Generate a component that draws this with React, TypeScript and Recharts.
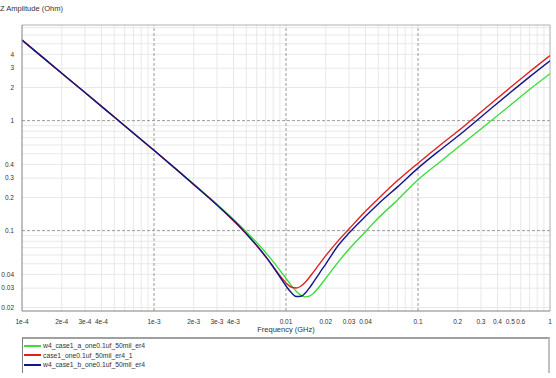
import React from 'react';
import { LineChart, Line, XAxis, YAxis, ReferenceLine, Label } from 'recharts';

const freqs = [1e-4, 2e-4, 3e-4, 5e-4, 7e-4, 1e-3, 1.5e-3, 2e-3, 3e-3, 4e-3, 5e-3, 6e-3, 7e-3, 8e-3, 9e-3, 0.01, 0.011, 0.012, 0.013, 0.014, 0.015, 0.016, 0.018, 0.02, 0.025, 0.03, 0.04, 0.05, 0.07, 0.1, 0.15, 0.2, 0.3, 0.5, 0.7, 1];
const zGreen = [5.40, 2.70, 1.80, 1.079, 0.770, 0.537, 0.356, 0.265, 0.174, 0.127, 0.0978, 0.0779, 0.0633, 0.0523, 0.0436, 0.0368, 0.0316, 0.0280, 0.0258, 0.0250, 0.0254, 0.0267, 0.0312, 0.0368, 0.0523, 0.0678, 0.0978, 0.13, 0.19, 0.29, 0.43, 0.57, 0.84, 1.38, 1.92, 2.67];
const zRed = [5.40, 2.70, 1.80, 1.078, 0.769, 0.536, 0.354, 0.262, 0.171, 0.123, 0.0934, 0.0730, 0.0581, 0.0471, 0.0390, 0.0335, 0.0306, 0.0301, 0.0314, 0.0340, 0.0375, 0.0415, 0.0502, 0.0592, 0.0816, 0.1034, 0.15, 0.195, 0.285, 0.41, 0.61, 0.80, 1.2, 2.0, 2.78, 3.9];
const zBlue = [5.40, 2.70, 1.80, 1.078, 0.769, 0.537, 0.355, 0.263, 0.171, 0.124, 0.0939, 0.0734, 0.0583, 0.0467, 0.0379, 0.0314, 0.0272, 0.0252, 0.0253, 0.0271, 0.0300, 0.0335, 0.0414, 0.0497, 0.074, 0.095, 0.135, 0.175, 0.25, 0.37, 0.55, 0.72, 1.08, 1.8, 2.5, 3.5];

const seriesNames = ['w4_case1_a_one0.1uf_50mil_er4', 'case1_one0.1uf_50mil_er4_1', 'w4_case1_b_one0.1uf_50mil_er4'];
const seriesColors = ['#3ddc3d', '#e02020', '#14148c'];

const xTicks = [1e-4, 2e-4, 3e-4, 4e-4, 1e-3, 2e-3, 3e-3, 4e-3, 0.01, 0.02, 0.03, 0.04, 0.1, 0.2, 0.3, 0.4, 0.5, 0.6, 1];
const xTickLabels = ['1e-4', '2e-4', '3e-4', '4e-4', '1e-3', '2e-3', '3e-3', '4e-3', '0.01', '0.02', '0.03', '0.04', '0.1', '0.2', '0.3', '0.4', '0.5', '0.6', '1'];
const yTicks = [0.02, 0.03, 0.04, 0.1, 0.2, 0.3, 0.4, 1, 2, 3, 4];
const yTickLabels = ['0.02', '0.03', '0.04', '0.1', '0.2', '0.3', '0.4', '1', '2', '3', '4'];

const xMajor = [1e-3, 1e-2, 1e-1];
const yMajor = [0.1, 1];
const xMinor: number[] = [];
[1e-4, 1e-3, 1e-2, 1e-1].forEach((d) => {
  for (let m = 2; m <= 9; m++) xMinor.push(m * d);
});
const yMinor: number[] = [];
[0.01, 0.1, 1].forEach((d) => {
  for (let m = 2; m <= 9; m++) {
    const v = m * d;
    if (v > 0.0186 && v < 7.4) yMinor.push(v);
  }
});

const data = freqs.map((f, i) => ({ f, green: zGreen[i], red: zRed[i], blue: zBlue[i] }));
const keys = ['green', 'red', 'blue'];

const font = '"Liberation Sans", Arial, sans-serif';

export default function App() {
  return (
    <div style={{ position: 'absolute', left: 0, top: 0, width: 556, height: 378, background: '#fff', fontFamily: font }}>
      <div style={{ position: 'absolute', left: 0, top: 4, fontSize: 7.5, color: '#333' }}>Z Amplitude (Ohm)</div>
      <LineChart width={556} height={378} data={data} margin={{ top: 25, right: 6, bottom: 37, left: 0 }}>
        <XAxis
          dataKey="f"
          type="number"
          scale="log"
          domain={[1e-4, 1]}
          ticks={xTicks}
          tickFormatter={(v: number) => xTickLabels[xTicks.indexOf(v)] ?? ''}
          tick={{ fontSize: 6.5, fill: '#333', fontFamily: font }}
          tickLine={false}
          axisLine={{ stroke: '#808080' }}
          height={30}
          allowDataOverflow
          interval={0}
        >
          <Label value="Frequency (GHz)" position="insideBottom" offset={9} style={{ fontSize: 7.5, fill: '#333', fontFamily: font }} />
        </XAxis>
        <YAxis
          type="number"
          scale="log"
          domain={[0.0186, 7.4]}
          ticks={yTicks}
          tickFormatter={(v: number) => yTickLabels[yTicks.indexOf(v)] ?? ''}
          tick={{ fontSize: 6.5, fill: '#333', fontFamily: font }}
          tickLine={false}
          axisLine={{ stroke: '#808080' }}
          width={22}
          allowDataOverflow
          interval={0}
        />
        {xMinor.map((v) => (
          <ReferenceLine key={'xm' + v} x={v} stroke="#e8e8e8" strokeWidth={1} />
        ))}
        {yMinor.map((v) => (
          <ReferenceLine key={'ym' + v} y={v} stroke="#e8e8e8" strokeWidth={1} />
        ))}
        {xMajor.map((v) => (
          <ReferenceLine key={'xM' + v} x={v} stroke="#9a9a9a" strokeDasharray="3 2" strokeWidth={1} />
        ))}
        {yMajor.map((v) => (
          <ReferenceLine key={'yM' + v} y={v} stroke="#9a9a9a" strokeDasharray="3 2" strokeWidth={1} />
        ))}
        <ReferenceLine x={1} stroke="#b0b0b0" />
        <ReferenceLine y={7.4} stroke="#b0b0b0" />
        {keys.map((k, i) => (
          <Line
            key={k}
            dataKey={k}
            name={seriesNames[i]}
            type="monotone"
            stroke={seriesColors[i]}
            strokeWidth={1.4}
            dot={false}
            isAnimationActive={false}
          />
        ))}
      </LineChart>
      <div
        style={{
          position: 'absolute',
          left: 22,
          top: 337,
          width: 525,
          height: 34,
          borderTop: '2px solid #a0a0a0',
          borderLeft: '1px solid #808080',
          borderRight: '2px solid #c0c0c0',
        }}
      >
        {seriesNames.map((n, i) => (
          <div key={n} style={{ position: 'absolute', left: 1, top: 2 + i * 9.7, height: 9, display: 'flex', alignItems: 'center' }}>
            <div style={{ width: 17, height: 0, borderTop: `2px solid ${seriesColors[i]}` }} />
            <span style={{ marginLeft: 2, fontSize: 6.8, color: '#333', whiteSpace: 'nowrap' }}>{n}</span>
          </div>
        ))}
      </div>
    </div>
  );
}
